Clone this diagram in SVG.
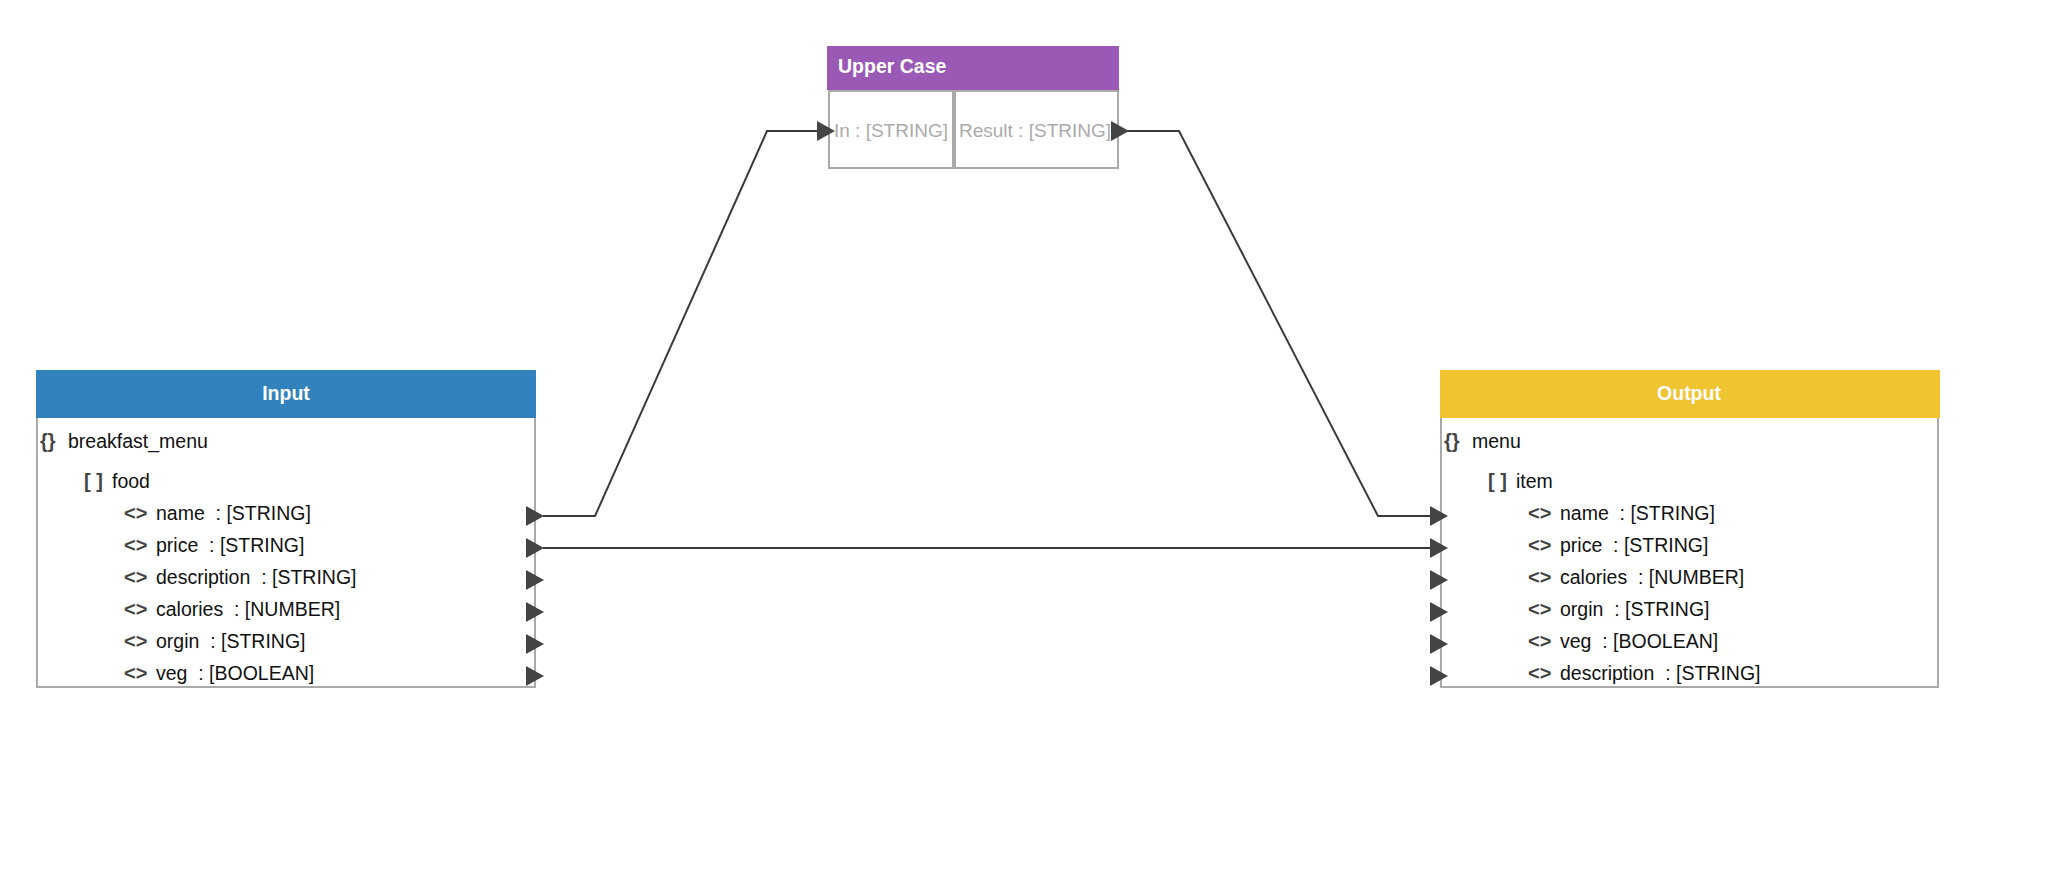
<svg xmlns="http://www.w3.org/2000/svg" xmlns:xlink="http://www.w3.org/1999/xlink" width="2064" height="892" viewBox="0 0 2064 892">
<style>
text{font-family:"Liberation Sans",Arial,Helvetica,sans-serif;white-space:pre}
.hdr{font-size:19.5px;font-weight:bold;fill:#fff}
.lbl{font-size:19.5px;fill:#111}
.ico{font-size:20px;font-weight:bold;fill:#444}
.port{font-size:19px;fill:#aaa}
.box{fill:#fff;stroke:#aaa;stroke-width:2}
.conn{fill:none;stroke:#3a3a3a;stroke-width:2}
.arr{fill:#444}
</style>
<defs>
<path id="tri" d="M0,-10 L18,0 L0,10 Z"/>
</defs>
<rect width="2064" height="892" fill="#fff"/>

<g id="connectors">
<path class="conn" d="M543,516 H595 L767,131 H818"/>
<path class="conn" d="M1127,131 H1179 L1378,516 H1431"/>
<path class="conn" d="M543,548 H1431"/>
</g>

<g id="node-input">
<rect class="box" x="37" y="371" width="498" height="316"/>
<rect x="36" y="370" width="500" height="48" fill="#3182bd"/>
<text class="hdr" x="286" y="400" text-anchor="middle">Input</text>
<text class="ico" x="40" y="448">{}</text>
<text class="lbl" x="68" y="448">breakfast_menu</text>
<text class="ico" x="84" y="488">[ ]</text>
<text class="lbl" x="112" y="488">food</text>
<text class="ico" x="124" y="520">&lt;&gt;</text>
<text class="lbl" x="156" y="520">name  : [STRING]</text>
<text class="ico" x="124" y="552">&lt;&gt;</text>
<text class="lbl" x="156" y="552">price  : [STRING]</text>
<text class="ico" x="124" y="584">&lt;&gt;</text>
<text class="lbl" x="156" y="584">description  : [STRING]</text>
<text class="ico" x="124" y="616">&lt;&gt;</text>
<text class="lbl" x="156" y="616">calories  : [NUMBER]</text>
<text class="ico" x="124" y="648">&lt;&gt;</text>
<text class="lbl" x="156" y="648">orgin  : [STRING]</text>
<text class="ico" x="124" y="680">&lt;&gt;</text>
<text class="lbl" x="156" y="680">veg  : [BOOLEAN]</text>
<use href="#tri" xlink:href="#tri" class="arr" x="526" y="516"/>
<use href="#tri" xlink:href="#tri" class="arr" x="526" y="548"/>
<use href="#tri" xlink:href="#tri" class="arr" x="526" y="580"/>
<use href="#tri" xlink:href="#tri" class="arr" x="526" y="612"/>
<use href="#tri" xlink:href="#tri" class="arr" x="526" y="644"/>
<use href="#tri" xlink:href="#tri" class="arr" x="526" y="676"/>
</g>

<g id="node-output">
<rect class="box" x="1441" y="371" width="497" height="316"/>
<rect x="1440" y="370" width="500" height="48" fill="#f0c331"/>
<text class="hdr" x="1689" y="400" text-anchor="middle">Output</text>
<text class="ico" x="1444" y="448">{}</text>
<text class="lbl" x="1472" y="448">menu</text>
<text class="ico" x="1488" y="488">[ ]</text>
<text class="lbl" x="1516" y="488">item</text>
<text class="ico" x="1528" y="520">&lt;&gt;</text>
<text class="lbl" x="1560" y="520">name  : [STRING]</text>
<text class="ico" x="1528" y="552">&lt;&gt;</text>
<text class="lbl" x="1560" y="552">price  : [STRING]</text>
<text class="ico" x="1528" y="584">&lt;&gt;</text>
<text class="lbl" x="1560" y="584">calories  : [NUMBER]</text>
<text class="ico" x="1528" y="616">&lt;&gt;</text>
<text class="lbl" x="1560" y="616">orgin  : [STRING]</text>
<text class="ico" x="1528" y="648">&lt;&gt;</text>
<text class="lbl" x="1560" y="648">veg  : [BOOLEAN]</text>
<text class="ico" x="1528" y="680">&lt;&gt;</text>
<text class="lbl" x="1560" y="680">description  : [STRING]</text>
<use href="#tri" xlink:href="#tri" class="arr" x="1430" y="516"/>
<use href="#tri" xlink:href="#tri" class="arr" x="1430" y="548"/>
<use href="#tri" xlink:href="#tri" class="arr" x="1430" y="580"/>
<use href="#tri" xlink:href="#tri" class="arr" x="1430" y="612"/>
<use href="#tri" xlink:href="#tri" class="arr" x="1430" y="644"/>
<use href="#tri" xlink:href="#tri" class="arr" x="1430" y="676"/>
</g>

<g id="node-uppercase">
<rect x="827" y="46" width="292" height="44" fill="#9b59b6"/>
<text class="hdr" x="838" y="73">Upper Case</text>
<rect class="box" x="829" y="91" width="124" height="77"/>
<rect class="box" x="955" y="91" width="163" height="77"/>
<text class="port" x="891" y="137" text-anchor="middle">In : [STRING]</text>
<text class="port" x="1035" y="137" text-anchor="middle">Result : [STRING]</text>
<use href="#tri" xlink:href="#tri" class="arr" x="817" y="131"/>
<use href="#tri" xlink:href="#tri" class="arr" x="1111" y="131"/>
</g>
</svg>
